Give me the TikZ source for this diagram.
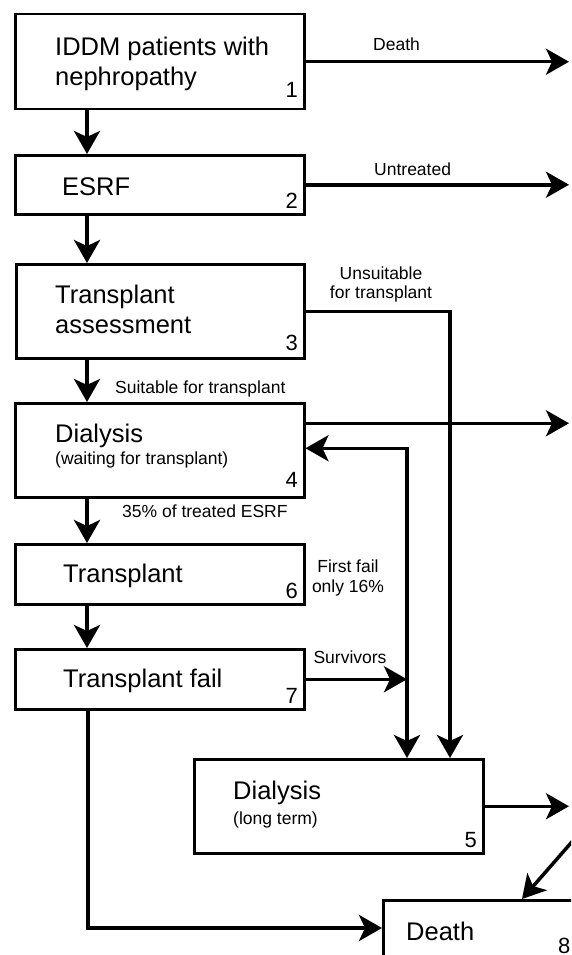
\documentclass[tikz,border=0pt]{standalone}
\usepackage{fontspec}
\setmainfont{Liberation Sans}
\usetikzlibrary{arrows.meta,positioning,calc}

\begin{document}
\begin{tikzpicture}[x=1pt, y=-1pt,
  >={Stealth[length=23pt,width=26pt,inset=6pt]},
  box/.style={draw, line width=2.5pt, anchor=north west, inner sep=0pt, minimum width=289pt},
  big/.style={font=\fontsize{25.5pt}{30pt}\selectfont, anchor=base west, inner sep=0pt},
  sub/.style={font=\fontsize{17.5pt}{21pt}\selectfont, anchor=base west, inner sep=0pt},
  num/.style={font=\fontsize{22pt}{26pt}\selectfont, anchor=base east, inner sep=0pt},
  arr/.style={line width=3.5pt, ->}
]
\useasboundingbox (0,0) rectangle (571,955);
\fill[white] (0,0) rectangle (571,955);
\clip (0,0) rectangle (571,955);

% boxes
\node[box, minimum height=95pt] (b1) at (14,13) {};
\node[box, minimum height=59pt] (b2) at (14,154) {};
\node[box, minimum height=94pt, minimum width=288pt] (b3) at (15,263) {};
\node[box, minimum height=94pt] (b4) at (14,402) {};
\node[box, minimum height=60pt] (b6) at (14,543) {};
\node[box, minimum height=60pt] (b7) at (14,648) {};
\node[box, minimum height=94pt] (b5) at (193,758) {};
\node[box, minimum height=100pt, minimum width=250pt] (b8) at (382,899) {};

% box texts
\node[big] (t1a) at (55,56) {IDDM patients with};
\node[big] (t1b) at (55,86) {nephropathy};
\node[big] (t2) at (62,195) {ESRF};
\node[big] (t3a) at (55,303) {Transplant};
\node[big] (t3b) at (55,333) {assessment};
\node[big] (t4a) at (55,442) {Dialysis};
\node[sub] (t4b) at (55,464) {(waiting for transplant)};
\node[big] (t6) at (63,582) {Transplant};
\node[big] (t7) at (63,687) {Transplant fail};
\node[big] (t5a) at (233,799) {Dialysis};
\node[sub] (t5b) at (233,824) {(long term)};
\node[big] (t8) at (406,940) {Death};

% numbers
\node[num] (n1) at (298,98) {1};
\node[num] (n2) at (298,208) {2};
\node[num] (n3) at (298,350) {3};
\node[num] (n4) at (298,487) {4};
\node[num] (n6) at (298,598) {6};
\node[num] (n7) at (298,703) {7};
\node[num] (n5) at (477,847) {5};
\node[num, anchor=base west] (n8) at (558,953) {8};

% connector labels
\node[sub] (lDeath) at (373,51) {Death};
\node[sub] (lUntr) at (374,175) {Untreated};
\node[sub, anchor=base] (lUns1) at (381,279) {Unsuitable};
\node[sub, anchor=base] (lUns2) at (381,298) {for transplant};
\node[sub] (lSuit) at (115,393) {Suitable for transplant};
\node[sub] (lPct) at (122,517) {35\% of treated ESRF};
\node[sub, anchor=base] (lFail1) at (348,572) {First fail};
\node[sub, anchor=base] (lFail2) at (348,592) {only 16\%};
\node[sub, anchor=base] (lSurv) at (350,663) {Survivors};

% free ends and junctions
\coordinate (edge) at (569,0);
\coordinate (vx) at ([xshift=214pt]b5.north west);
\coordinate (diag) at (584,828);

% connectors
\draw[arr] ([xshift=73pt]b1.south west) -- ([xshift=73pt]b2.north west);
\draw[arr] ([xshift=73pt]b2.south west) -- ([xshift=72pt]b3.north west);
\draw[arr] ([xshift=72pt]b3.south west) -- ([xshift=73pt]b4.north west);
\draw[arr] ([xshift=73pt]b4.south west) -- ([xshift=73pt]b6.north west);
\draw[arr] ([xshift=73pt]b6.south west) -- ([xshift=73pt]b7.north west);
\draw[arr] (b1.east) -- (b1.east -| edge);
\draw[arr] (b2.east) -- (b2.east -| edge);
\draw[arr] ([yshift=27pt]b4.east) -- ([yshift=27pt]b4.east -| edge);
\draw[arr] (b3.east) -| ([xshift=257pt]b5.north west);
\draw[arr, <->] ([yshift=2pt]b4.east) -| (vx);
\draw[arr] (b7.east) -- (b7.east -| vx);
\draw[arr] ([xshift=74pt]b7.south west) |- ([yshift=-29pt]b8.north west);
\draw[arr] (b5.east) -- (b5.east -| edge);
\draw[arr] (diag) -- ([xshift=140pt]b8.north west);
\end{tikzpicture}
\end{document}
